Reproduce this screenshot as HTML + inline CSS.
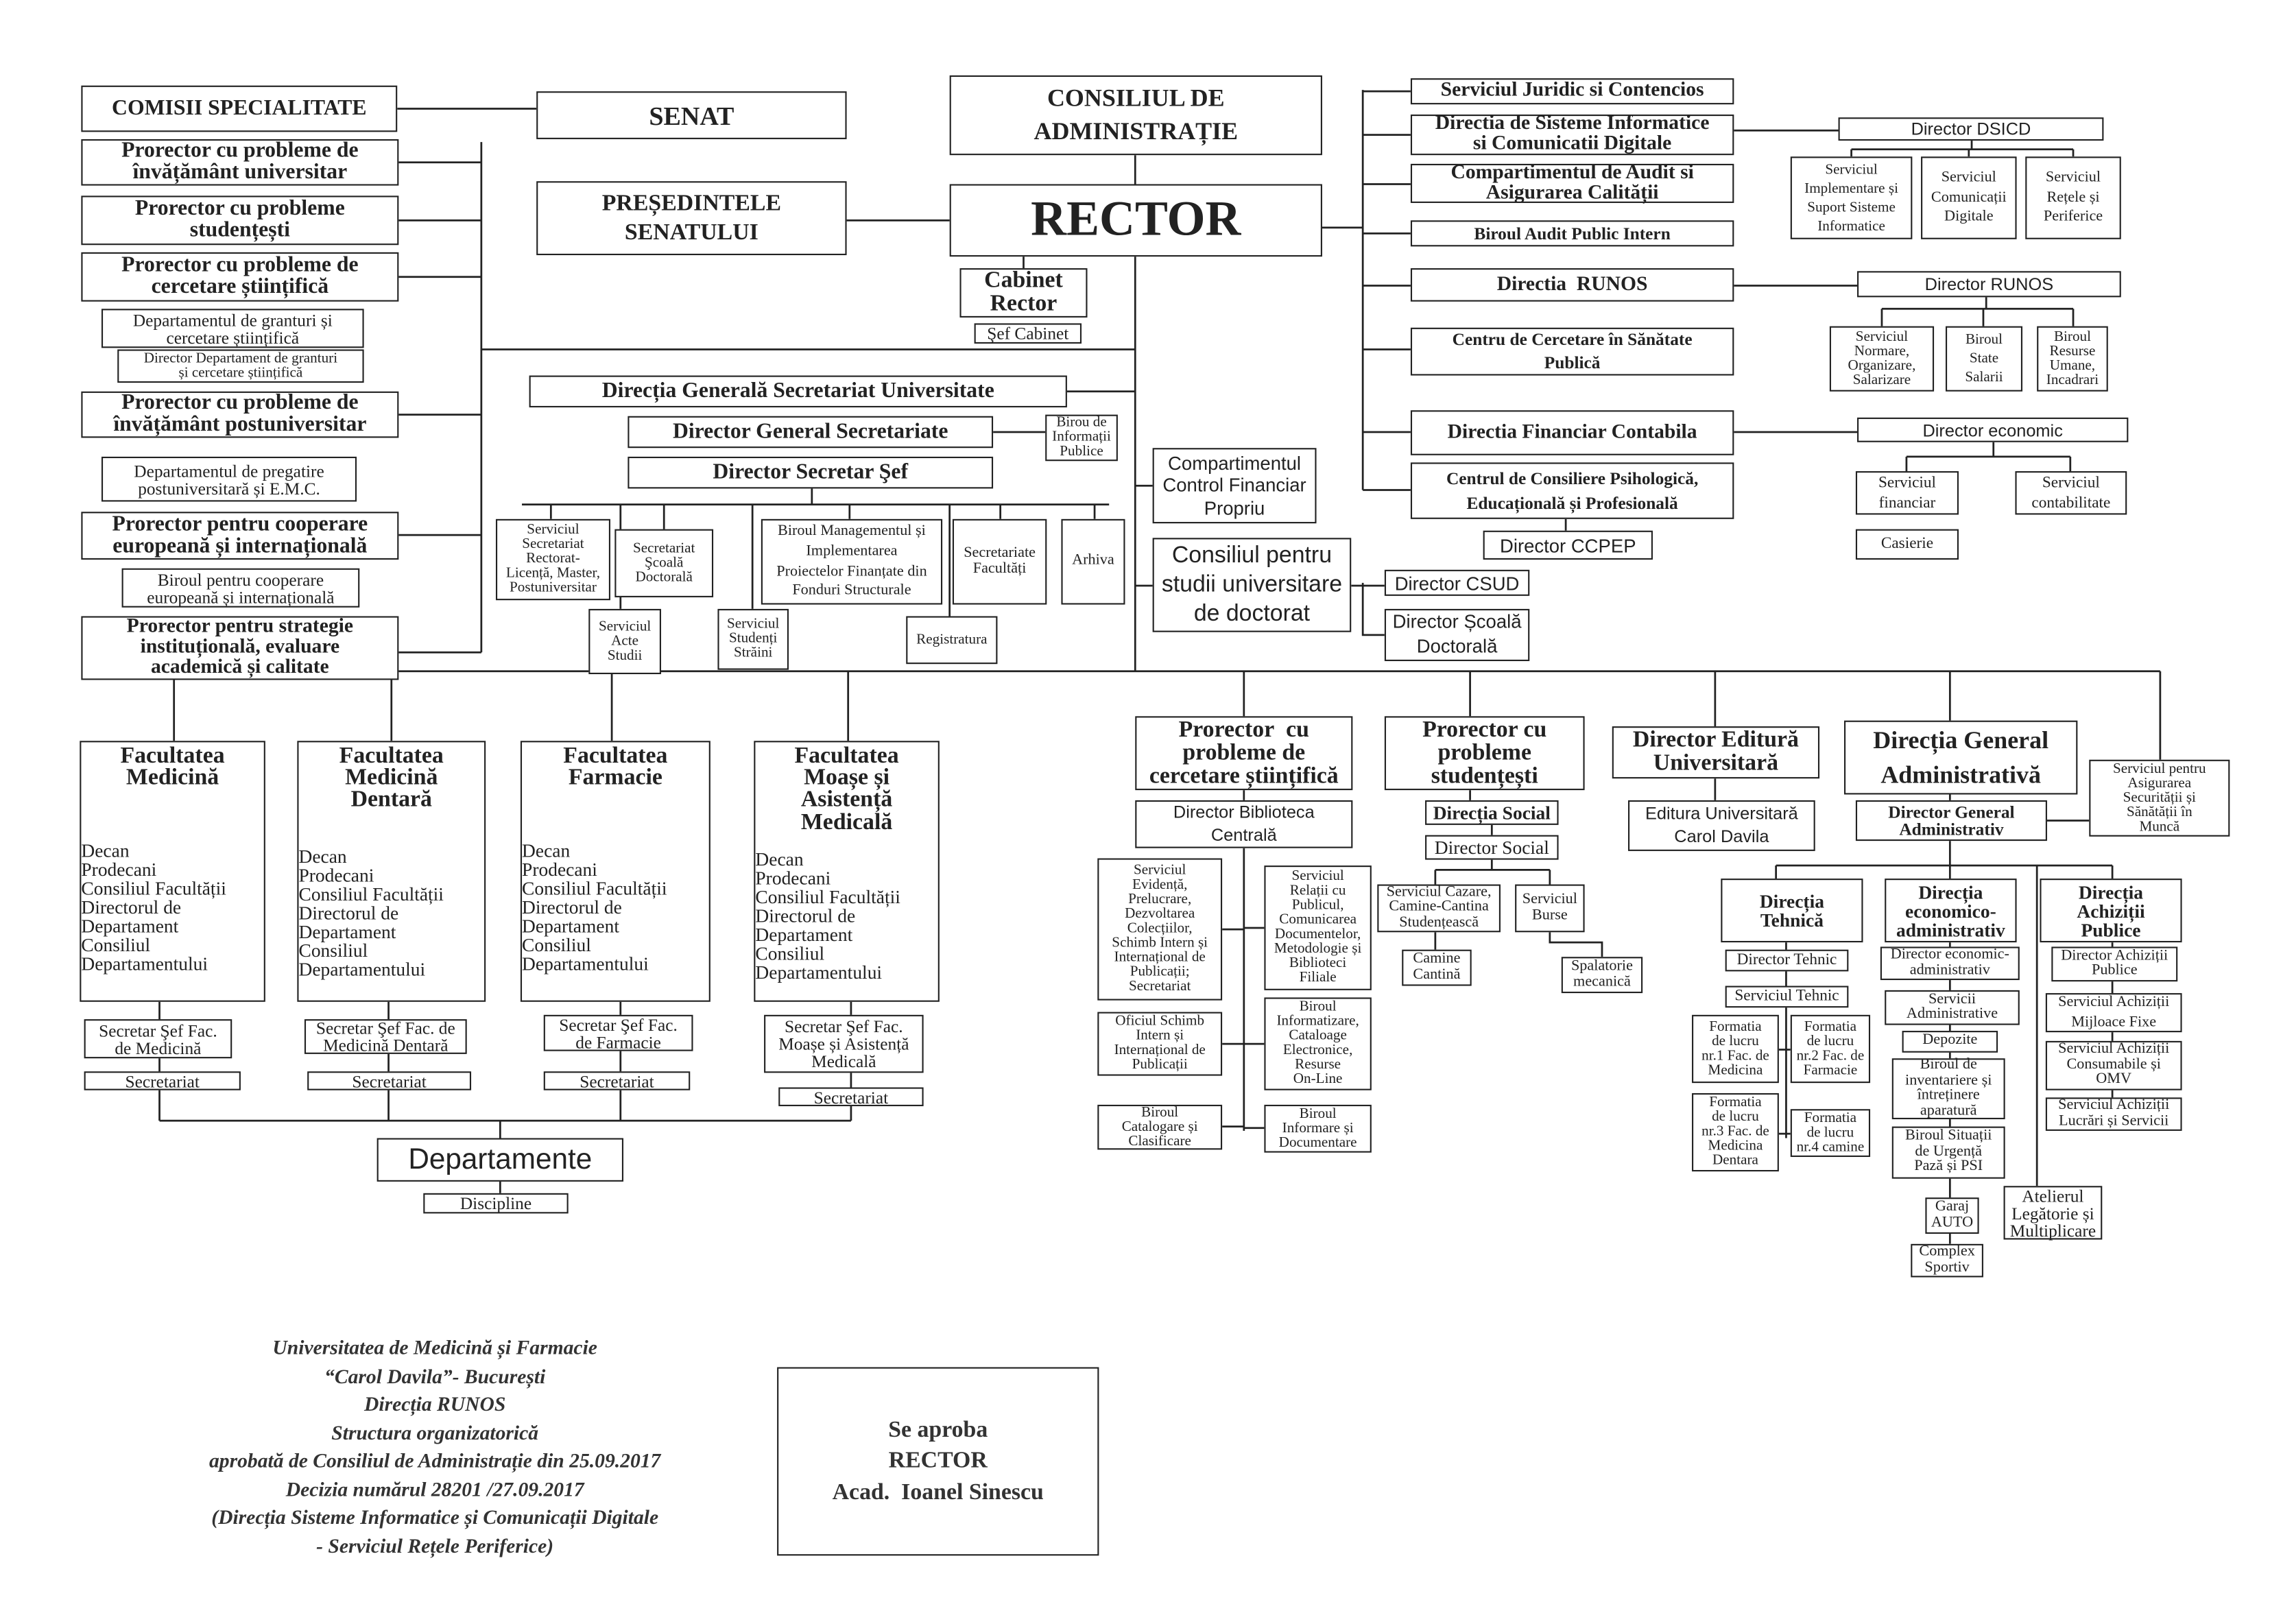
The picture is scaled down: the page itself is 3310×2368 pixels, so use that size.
<!DOCTYPE html>
<html><head><meta charset="utf-8">
<style>
html,body{margin:0;padding:0;background:#fff;}
body{width:3310px;height:2368px;overflow:hidden;position:relative;}
#w{position:absolute;left:0;top:0;width:1552px;height:1110px;transform:scale(2.114);transform-origin:0 0;}
.b{position:absolute;border:1px solid #222;box-sizing:border-box;display:flex;align-items:center;justify-content:center;text-align:center;line-height:1.0;font-family:"Liberation Serif",serif;color:#222;background:#fff;font-size:10px;}
.k{font-weight:bold;}
.f{position:absolute;border:1px solid #222;box-sizing:border-box;font-family:"Liberation Serif",serif;color:#222;background:#fff;}
.f .h{text-align:center;font-weight:bold;font-size:16px;line-height:0.95;margin-top:2px;}
.f .l{position:absolute;left:0;top:68px;font-size:13px;line-height:1.0;}
svg{position:absolute;left:0;top:0;}
.ft{position:absolute;left:100px;width:400px;top:921px;text-align:center;font-family:"Liberation Serif",serif;font-style:italic;font-weight:bold;font-size:14px;line-height:19.5px;color:#333;}
</style></head><body><div id="w">
<svg width="1552" height="1110" stroke="#222" stroke-width="1.3" fill="none">
<path d="M274 75H370M332 98V450M275 112H332M275 152H332M275 191H332M275 286H332M275 369H332M275 450H332M332 241H783M584 152H655M783 107V127M783 177V463M736 270H783M706 177V185M685 298H721M560 337V348M360 348H765M380 348V358M458 348V365M586 348V358M690 348V358M755 348V358M428 348V420M519 348V420M655 348V425M783 335H795M783 404H795M932 404H955M940 402V438H955M940 62V338M912 157H940M940 63H973M940 93H973M940 127H973M940 161H973M940 197H973M940 241H973M940 298H973M940 338H973M1196 90H1268M1360 97V103M1277 103H1430M1277 103V108M1358 103V108M1430 103V108M1196 197H1281M1370 205V213M1298 213H1430M1298 213V225M1368 213V225M1430 213V225M1196 298H1281M1375 305V315M1315 315H1428M1315 315V325M1428 315V325M1080 358V366M120 463H1490M120 463V511M270 463V511M422 463V511M585 463V511M858 463V494M1014 463V494M1183 463V501M1345 463V497M1490 463V524M110 691V773M268 691V773M428 691V773M587 691V773M110 773H587M345 773V785M345 815V823M858 545V552M858 585V780M843 641H858M843 720H858M843 777H858M858 640H872M858 720H872M858 778H872M1014 545V552M1029 569V576M1029 593V600M990 600H1069M990 600V610M1069 600V610M990 643V655M1069 643V650H1105V660M1183 537V552M1345 548V552M1412 566H1441M1345 580V597M1225 597H1457M1225 597V606M1345 597V606M1457 597V606M1232 650V785M1227 724H1235M1227 782H1235M1345 650V858M1405 597V818M1457 650V760"/>
</svg>

<div class="b k" style="left:56px;top:59px;width:218px;height:32px;font-size:15px">COMISII SPECIALITATE</div>
<div class="b k" style="left:56px;top:96px;width:219px;height:32px;font-size:15px">Prorector cu probleme de<br>învățământ universitar</div>
<div class="b k" style="left:56px;top:135px;width:219px;height:34px;font-size:15px">Prorector cu probleme<br>studențești</div>
<div class="b k" style="left:56px;top:174px;width:219px;height:34px;font-size:15px">Prorector cu probleme de<br>cercetare științifică</div>
<div class="b" style="left:70px;top:213px;width:181px;height:27px;font-size:12px">Departamentul de granturi și<br>cercetare științifică</div>
<div class="b" style="left:81px;top:241px;width:170px;height:23px;font-size:10px">Director Departament de granturi<br>și cercetare științifică</div>
<div class="b k" style="left:56px;top:270px;width:219px;height:32px;font-size:15px">Prorector cu probleme de<br>învățământ postuniversitar</div>
<div class="b" style="left:70px;top:315px;width:176px;height:31px;font-size:12px">Departamentul de pregatire<br>postuniversitară și E.M.C.</div>
<div class="b k" style="left:56px;top:353px;width:219px;height:33px;font-size:15px">Prorector pentru cooperare<br>europeană și internațională</div>
<div class="b" style="left:84px;top:392px;width:164px;height:27px;font-size:12px">Biroul pentru cooperare<br>europeană și internațională</div>
<div class="b k" style="left:56px;top:425px;width:219px;height:44px;font-size:14px">Prorector pentru strategie<br>instituțională, evaluare<br>academică și calitate</div>

<div class="b k" style="left:370px;top:63px;width:214px;height:33px;font-size:18px">SENAT</div>
<div class="b k" style="left:370px;top:125px;width:214px;height:51px;font-size:16px;line-height:1.25">PREȘEDINTELE<br>SENATULUI</div>
<div class="b k" style="left:655px;top:52px;width:257px;height:55px;font-size:17px;line-height:1.3">CONSILIUL DE<br>ADMINISTRAȚIE</div>
<div class="b k" style="left:655px;top:127px;width:257px;height:50px;font-size:34px">RECTOR</div>
<div class="b k" style="left:662px;top:185px;width:88px;height:34px;font-size:16px">Cabinet<br>Rector</div>
<div class="b" style="left:672px;top:223px;width:74px;height:14px;font-size:12px">Şef Cabinet</div>
<div class="b k" style="left:365px;top:259px;width:371px;height:22px;font-size:15px">Direcția Generală Secretariat Universitate</div>
<div class="b" style="left:721px;top:286px;width:50px;height:32px;font-size:10px">Birou de<br>Informații<br>Publice</div>
<div class="b k" style="left:433px;top:287px;width:252px;height:22px;font-size:15px">Director General Secretariate</div>
<div class="b k" style="left:433px;top:315px;width:252px;height:22px;font-size:15px">Director Secretar Şef</div>
<div class="b" style="left:342px;top:358px;width:79px;height:56px;font-size:10px">Serviciul<br>Secretariat<br>Rectorat-<br>Licență, Master,<br>Postuniversitar</div>
<div class="b" style="left:424px;top:365px;width:68px;height:47px;font-size:10px">Secretariat<br>Şcoală<br>Doctorală</div>
<div class="b" style="left:525px;top:358px;width:125px;height:59px;font-size:10.5px;line-height:1.3">Biroul Managementul și<br>Implementarea<br>Proiectelor Finanțate din<br>Fonduri Structurale</div>
<div class="b" style="left:657px;top:358px;width:65px;height:59px;font-size:10.5px">Secretariate<br>Facultăți</div>
<div class="b" style="left:732px;top:358px;width:44px;height:59px;font-size:10.5px">Arhiva</div>
<div class="b" style="left:406px;top:420px;width:50px;height:45px;font-size:10px">Serviciul<br>Acte<br>Studii</div>
<div class="b" style="left:495px;top:420px;width:49px;height:42px;font-size:10px">Serviciul<br>Studenți<br>Străini</div>
<div class="b" style="left:625px;top:425px;width:63px;height:33px;font-size:10px">Registratura</div>
<div class="b" style="left:795px;top:309px;width:113px;height:52px;font-size:13px;font-family:'Liberation Sans',sans-serif;line-height:1.2">Compartimentul<br>Control Financiar<br>Propriu</div>
<div class="b" style="left:795px;top:371px;width:137px;height:65px;font-size:16px;font-family:'Liberation Sans',sans-serif;line-height:1.25">Consiliul pentru<br>studii universitare<br>de doctorat</div>
<div class="b" style="left:955px;top:393px;width:100px;height:18px;font-size:13px;font-family:'Liberation Sans',sans-serif">Director CSUD</div>
<div class="b" style="left:955px;top:420px;width:100px;height:36px;font-size:13px;font-family:'Liberation Sans',sans-serif;line-height:1.3">Director Școală<br>Doctorală</div>

<div class="b k" style="left:973px;top:54px;width:223px;height:18px;font-size:14px">Serviciul Juridic si Contencios</div>
<div class="b k" style="left:973px;top:79px;width:223px;height:28px;font-size:14px">Directia de Sisteme Informatice<br>si Comunicatii Digitale</div>
<div class="b k" style="left:973px;top:113px;width:223px;height:27px;font-size:14px">Compartimentul de Audit si<br>Asigurarea Calității</div>
<div class="b k" style="left:973px;top:152px;width:223px;height:18px;font-size:12px">Biroul Audit Public Intern</div>
<div class="b k" style="left:973px;top:185px;width:223px;height:23px;font-size:14px">Directia&nbsp; RUNOS</div>
<div class="b k" style="left:973px;top:226px;width:223px;height:33px;font-size:12px;line-height:1.3">Centru de Cercetare în Sănătate<br>Publică</div>
<div class="b k" style="left:973px;top:283px;width:223px;height:31px;font-size:14px">Directia Financiar Contabila</div>
<div class="b k" style="left:973px;top:319px;width:223px;height:39px;font-size:12px;line-height:1.35">Centrul de Consiliere Psihologică,<br>Educațională și Profesională</div>
<div class="b" style="left:1023px;top:366px;width:117px;height:20px;font-size:13px;font-family:'Liberation Sans',sans-serif">Director CCPEP</div>
<div class="b" style="left:1268px;top:81px;width:183px;height:16px;font-size:12px;font-family:'Liberation Sans',sans-serif">Director DSICD</div>
<div class="b" style="left:1235px;top:108px;width:84px;height:57px;font-size:10px;line-height:1.3">Serviciul<br>Implementare și<br>Suport Sisteme<br>Informatice</div>
<div class="b" style="left:1325px;top:108px;width:66px;height:57px;font-size:10.5px;line-height:1.3">Serviciul<br>Comunicații<br>Digitale</div>
<div class="b" style="left:1397px;top:108px;width:66px;height:57px;font-size:10.5px;line-height:1.3">Serviciul<br>Rețele și<br>Periferice</div>
<div class="b" style="left:1281px;top:187px;width:182px;height:18px;font-size:12px;font-family:'Liberation Sans',sans-serif">Director RUNOS</div>
<div class="b" style="left:1262px;top:225px;width:72px;height:45px;font-size:10px">Serviciul<br>Normare,<br>Organizare,<br>Salarizare</div>
<div class="b" style="left:1342px;top:225px;width:53px;height:45px;font-size:10px;line-height:1.3">Biroul<br>State<br>Salarii</div>
<div class="b" style="left:1405px;top:225px;width:49px;height:45px;font-size:10px">Biroul<br>Resurse<br>Umane,<br>Incadrari</div>
<div class="b" style="left:1281px;top:288px;width:187px;height:17px;font-size:12px;font-family:'Liberation Sans',sans-serif">Director economic</div>
<div class="b" style="left:1280px;top:325px;width:71px;height:30px;font-size:11px;line-height:1.3">Serviciul<br>financiar</div>
<div class="b" style="left:1390px;top:325px;width:77px;height:30px;font-size:11px;line-height:1.3">Serviciul<br>contabilitate</div>
<div class="b" style="left:1280px;top:365px;width:71px;height:21px;font-size:11px">Casierie</div>

<div class="f" style="left:55px;top:511px;width:128px;height:180px"><div class="h">Facultatea<br>Medicină</div><div class="l">Decan<br>Prodecani<br>Consiliul Facultății<br>Directorul de<br>Departament<br>Consiliul<br>Departamentului</div></div>
<div class="f" style="left:205px;top:511px;width:130px;height:180px"><div class="h">Facultatea<br>Medicină<br>Dentară</div><div class="l" style="top:72px">Decan<br>Prodecani<br>Consiliul Facultății<br>Directorul de<br>Departament<br>Consiliul<br>Departamentului</div></div>
<div class="f" style="left:359px;top:511px;width:131px;height:180px"><div class="h">Facultatea<br>Farmacie</div><div class="l">Decan<br>Prodecani<br>Consiliul Facultății<br>Directorul de<br>Departament<br>Consiliul<br>Departamentului</div></div>
<div class="f" style="left:520px;top:511px;width:128px;height:180px"><div class="h">Facultatea<br>Moașe și<br>Asistență<br>Medicală</div><div class="l" style="top:74px">Decan<br>Prodecani<br>Consiliul Facultății<br>Directorul de<br>Departament<br>Consiliul<br>Departamentului</div></div>
<div class="b" style="left:58px;top:703px;width:102px;height:27px;font-size:12px">Secretar Şef Fac.<br>de Medicină</div>
<div class="b" style="left:58px;top:739px;width:108px;height:13px;font-size:12px">Secretariat</div>
<div class="b" style="left:210px;top:703px;width:112px;height:24px;font-size:12px">Secretar Şef Fac. de<br>Medicină Dentară</div>
<div class="b" style="left:212px;top:739px;width:113px;height:13px;font-size:12px">Secretariat</div>
<div class="b" style="left:375px;top:700px;width:103px;height:25px;font-size:12px">Secretar Şef Fac.<br>de Farmacie</div>
<div class="b" style="left:375px;top:739px;width:101px;height:13px;font-size:12px">Secretariat</div>
<div class="b" style="left:527px;top:700px;width:110px;height:40px;font-size:12px">Secretar Şef Fac.<br>Moașe și Asistență<br>Medicală</div>
<div class="b" style="left:537px;top:750px;width:100px;height:13px;font-size:12px">Secretariat</div>
<div class="b" style="left:260px;top:785px;width:170px;height:30px;font-size:20px;font-family:'Liberation Sans',sans-serif">Departamente</div>
<div class="b" style="left:292px;top:823px;width:100px;height:14px;font-size:12px">Discipline</div>

<div class="b k" style="left:783px;top:494px;width:150px;height:51px;font-size:16px">Prorector&nbsp; cu<br>probleme de<br>cercetare științifică</div>
<div class="b" style="left:783px;top:552px;width:150px;height:33px;font-size:12px;font-family:'Liberation Sans',sans-serif;line-height:1.3">Director Biblioteca<br>Centrală</div>
<div class="b" style="left:757px;top:592px;width:86px;height:98px;font-size:10px">Serviciul<br>Evidență,<br>Prelucrare,<br>Dezvoltarea<br>Colecțiilor,<br>Schimb Intern și<br>Internațional de<br>Publicații;<br>Secretariat</div>
<div class="b" style="left:757px;top:698px;width:86px;height:44px;font-size:10px">Oficiul Schimb<br>Intern și<br>Internațional de<br>Publicații</div>
<div class="b" style="left:757px;top:762px;width:86px;height:31px;font-size:10px">Biroul<br>Catalogare și<br>Clasificare</div>
<div class="b" style="left:872px;top:597px;width:74px;height:86px;font-size:10px">Serviciul<br>Relații cu<br>Publicul,<br>Comunicarea<br>Documentelor,<br>Metodologie și<br>Biblioteci<br>Filiale</div>
<div class="b" style="left:872px;top:688px;width:74px;height:64px;font-size:10px">Biroul<br>Informatizare,<br>Cataloage<br>Electronice,<br>Resurse<br>On-Line</div>
<div class="b" style="left:872px;top:762px;width:74px;height:33px;font-size:10px">Biroul<br>Informare și<br>Documentare</div>
<div class="b k" style="left:955px;top:494px;width:138px;height:51px;font-size:16px">Prorector cu<br>probleme<br>studențești</div>
<div class="b k" style="left:983px;top:552px;width:92px;height:17px;font-size:13px">Direcția Social</div>
<div class="b" style="left:983px;top:576px;width:92px;height:17px;font-size:13px">Director Social</div>
<div class="b" style="left:950px;top:610px;width:85px;height:33px;font-size:10.5px">Serviciul Cazare,<br>Camine-Cantina<br>Studențească</div>
<div class="b" style="left:1045px;top:610px;width:48px;height:33px;font-size:10.5px">Serviciul<br>Burse</div>
<div class="b" style="left:967px;top:655px;width:48px;height:25px;font-size:10.5px">Camine<br>Cantină</div>
<div class="b" style="left:1077px;top:660px;width:56px;height:25px;font-size:10.5px">Spalatorie<br>mecanică</div>
<div class="b k" style="left:1112px;top:501px;width:143px;height:36px;font-size:16px">Director Editură<br>Universitară</div>
<div class="b" style="left:1123px;top:552px;width:129px;height:35px;font-size:12px;font-family:'Liberation Sans',sans-serif;line-height:1.3">Editura Universitară<br>Carol Davila</div>
<div class="b k" style="left:1272px;top:497px;width:161px;height:51px;font-size:17px;line-height:1.4">Direcția General<br>Administrativă</div>
<div class="b k" style="left:1280px;top:552px;width:132px;height:28px;font-size:12px">Director General<br>Administrativ</div>
<div class="b" style="left:1441px;top:524px;width:97px;height:53px;font-size:10px">Serviciul pentru<br>Asigurarea<br>Securității și<br>Sănătății în<br>Muncă</div>
<div class="b k" style="left:1187px;top:606px;width:98px;height:44px;font-size:13px">Direcția<br>Tehnică</div>
<div class="b k" style="left:1300px;top:606px;width:91px;height:44px;font-size:13px">Direcția<br>economico-<br>administrativ</div>
<div class="b k" style="left:1407px;top:606px;width:98px;height:44px;font-size:13px">Direcția<br>Achiziții<br>Publice</div>
<div class="b" style="left:1190px;top:655px;width:85px;height:15px;font-size:11px">Director Tehnic</div>
<div class="b" style="left:1190px;top:680px;width:85px;height:15px;font-size:11px">Serviciul Tehnic</div>
<div class="b" style="left:1167px;top:700px;width:60px;height:47px;font-size:10px">Formatia<br>de lucru<br>nr.1 Fac. de<br>Medicina</div>
<div class="b" style="left:1235px;top:700px;width:55px;height:47px;font-size:10px">Formatia<br>de lucru<br>nr.2 Fac. de<br>Farmacie</div>
<div class="b" style="left:1167px;top:754px;width:60px;height:54px;font-size:10px">Formatia<br>de lucru<br>nr.3 Fac. de<br>Medicina<br>Dentara</div>
<div class="b" style="left:1235px;top:765px;width:55px;height:33px;font-size:10px">Formatia<br>de lucru<br>nr.4 camine</div>
<div class="b" style="left:1297px;top:653px;width:96px;height:23px;font-size:10.5px">Director economic-<br>administrativ</div>
<div class="b" style="left:1300px;top:683px;width:93px;height:24px;font-size:10.5px">Servicii<br>Administrative</div>
<div class="b" style="left:1312px;top:711px;width:66px;height:15px;font-size:10.5px">Depozite</div>
<div class="b" style="left:1305px;top:730px;width:78px;height:42px;font-size:10.5px">Biroul de<br>inventariere și<br>întreținere<br>aparatură</div>
<div class="b" style="left:1305px;top:777px;width:78px;height:36px;font-size:10.5px">Biroul Situații<br>de Urgență<br>Pază și PSI</div>
<div class="b" style="left:1328px;top:826px;width:37px;height:25px;font-size:10.5px">Garaj<br>AUTO</div>
<div class="b" style="left:1318px;top:858px;width:50px;height:23px;font-size:10.5px">Complex<br>Sportiv</div>
<div class="b" style="left:1415px;top:653px;width:87px;height:24px;font-size:10.5px">Director Achiziții<br>Publice</div>
<div class="b" style="left:1411px;top:685px;width:94px;height:27px;font-size:10.5px;line-height:1.3">Serviciul Achiziții<br>Mijloace Fixe</div>
<div class="b" style="left:1411px;top:718px;width:94px;height:34px;font-size:10.5px">Serviciul Achiziții<br>Consumabile și<br>OMV</div>
<div class="b" style="left:1411px;top:757px;width:94px;height:23px;font-size:10.5px">Serviciul Achiziții<br>Lucrări și Servicii</div>
<div class="b" style="left:1382px;top:818px;width:68px;height:37px;font-size:12px">Atelierul<br>Legătorie și<br>Multiplicare</div>

<div class="ft">Universitatea de Medicină și Farmacie<br>“Carol Davila”- București<br>Direcția RUNOS<br>Structura organizatorică<br>aprobată de Consiliul de Administrație din 25.09.2017<br>Decizia numărul 28201 /27.09.2017<br>(Direcția Sisteme Informatice și Comunicații Digitale<br>- Serviciul Rețele Periferice)</div>
<div class="b k" style="left:536px;top:943px;width:222px;height:130px;font-size:16px;line-height:1.35;color:#333">Se aproba<br>RECTOR<br>Acad.&nbsp; Ioanel Sinescu</div>
</div></body></html>
